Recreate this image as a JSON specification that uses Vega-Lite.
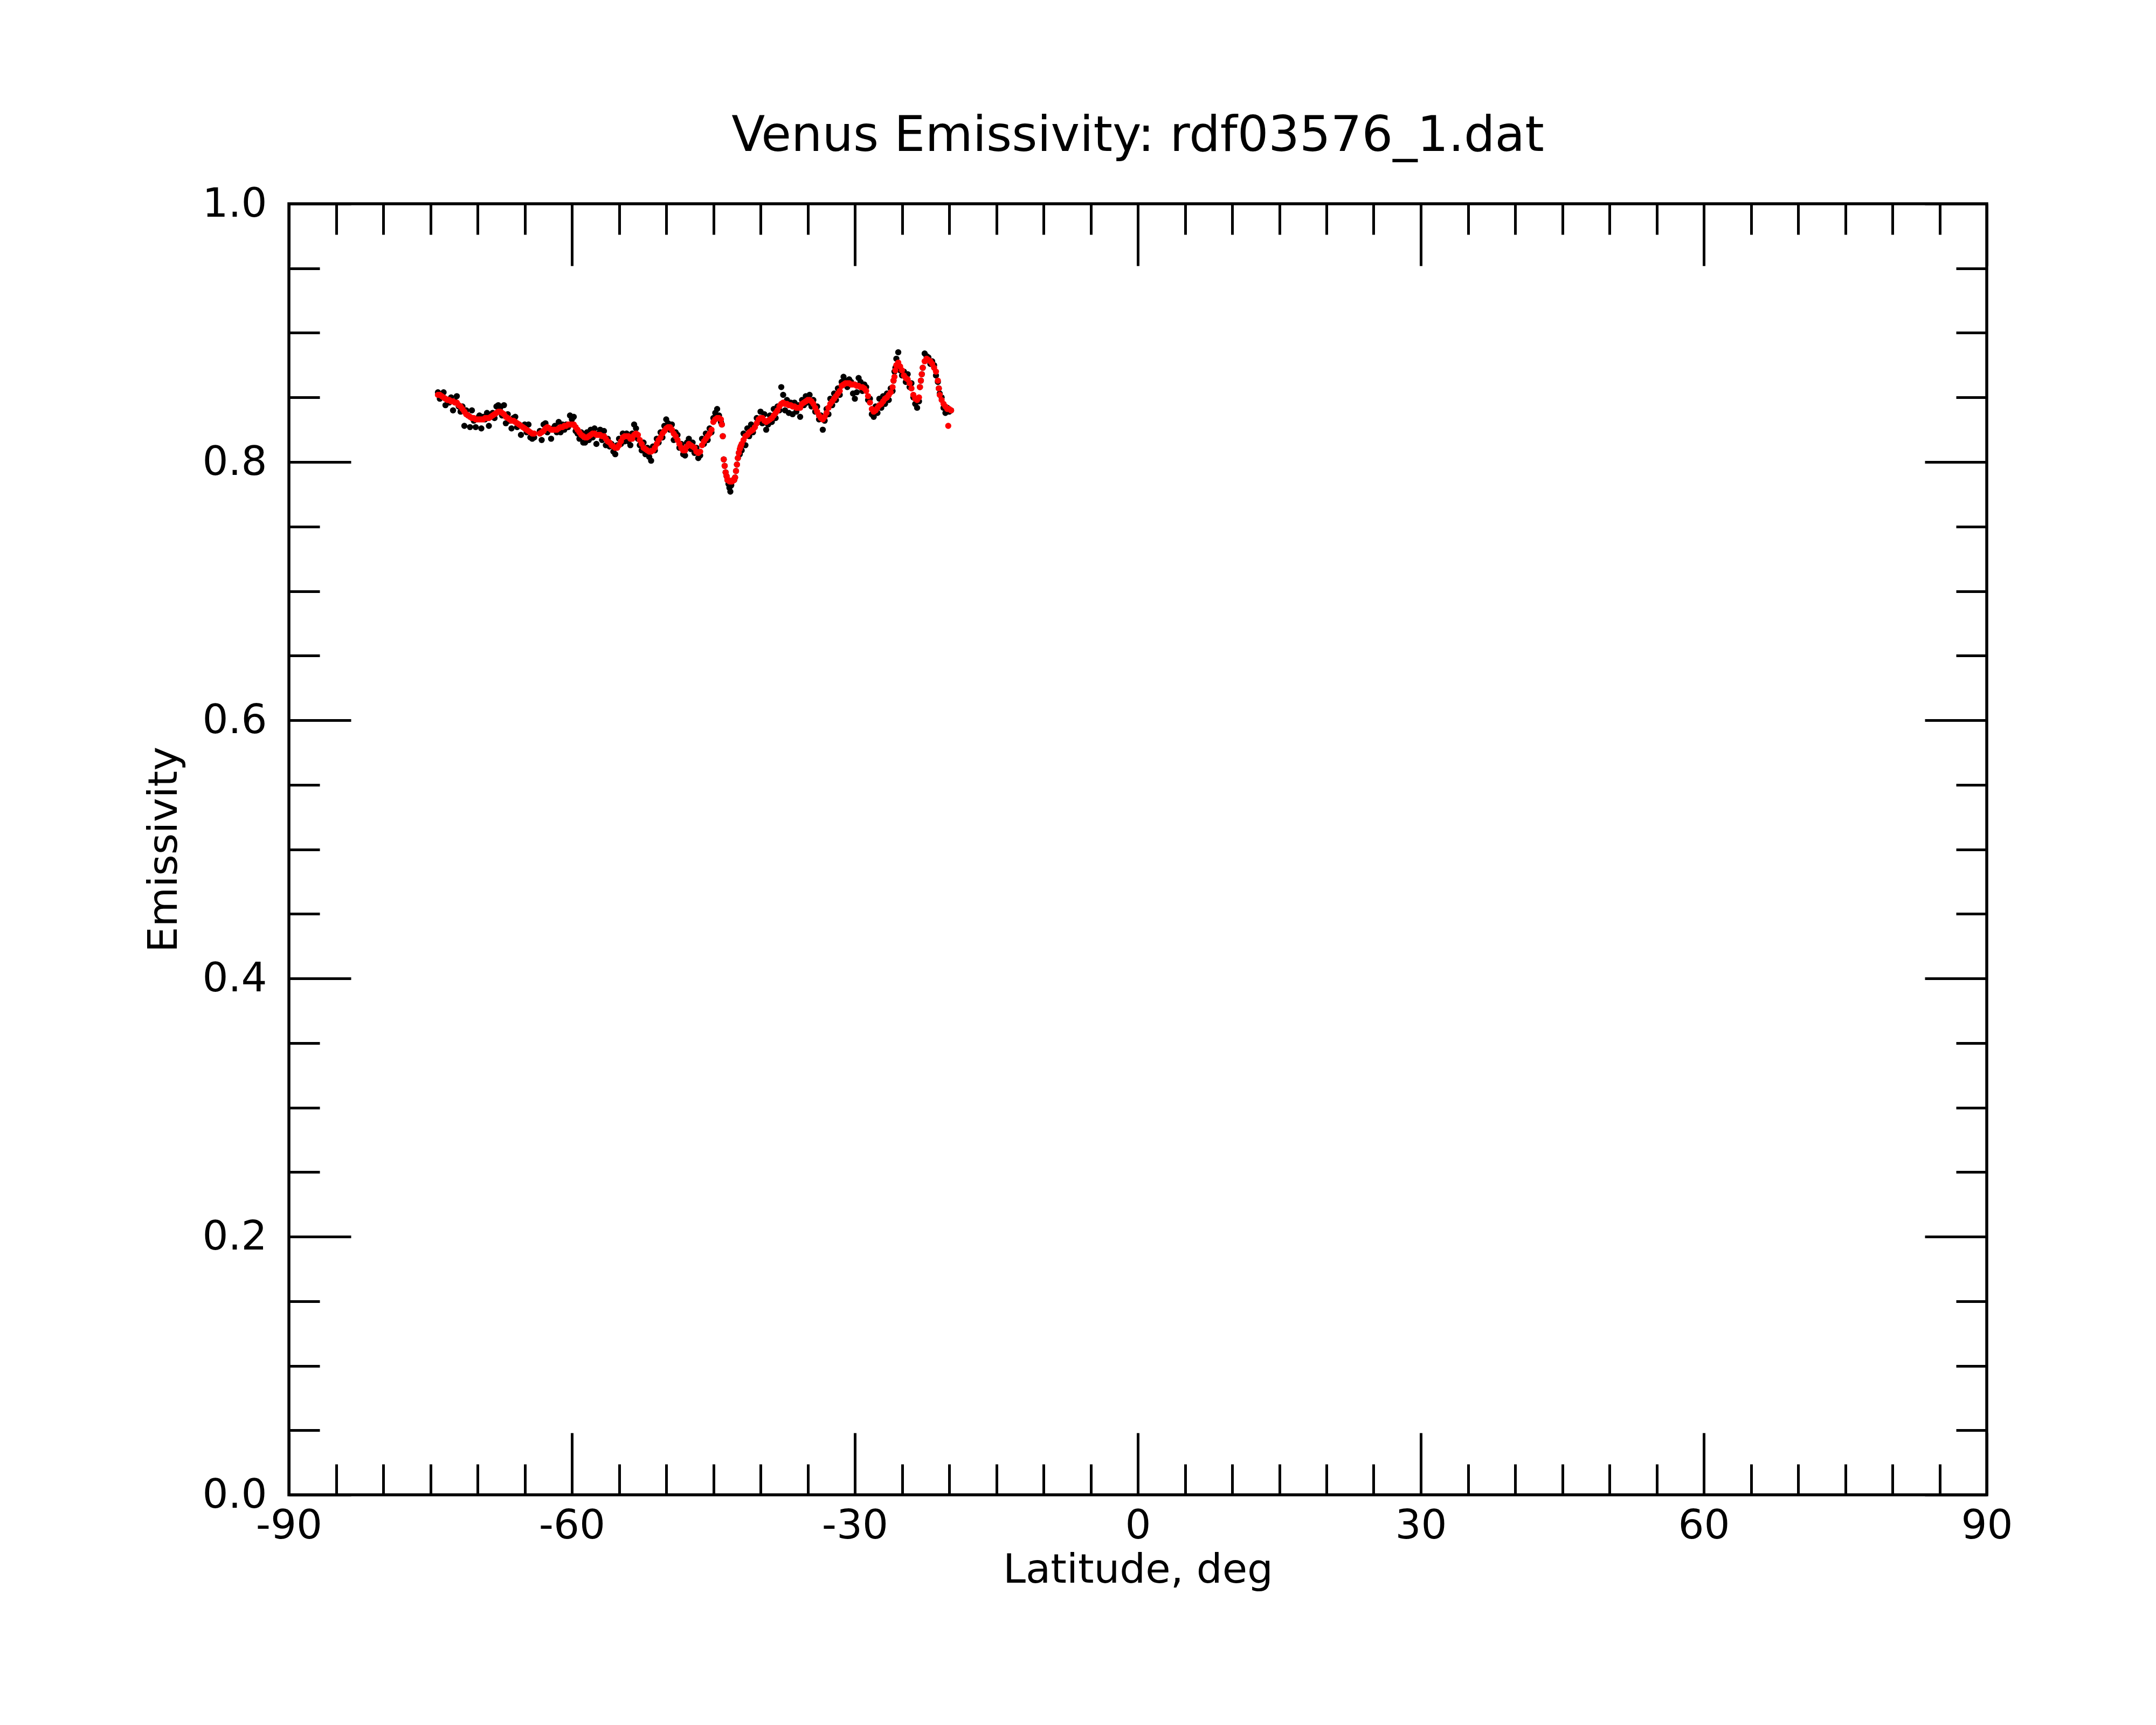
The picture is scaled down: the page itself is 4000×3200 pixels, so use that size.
{
  "$schema": "https://vega.github.io/schema/vega-lite/v6.json",
  "width": 3150,
  "height": 2395,
  "autosize": {"type": "none"},
  "padding": {"left": 536, "top": 378, "right": 314, "bottom": 427},
  "background": "white",
  "config": {
    "font": "DejaVu Sans",
    "view": {"stroke": "black", "strokeWidth": 5.5},
    "axis": {
      "domain": false,
      "grid": false,
      "tickColor": "black",
      "tickWidth": 5,
      "labelColor": "black",
      "labelFont": "DejaVu Sans",
      "labelFontSize": 75.5,
      "labelFlush": false,
      "labelOverlap": false,
      "titleFont": "DejaVu Sans",
      "titleFontSize": 75.5,
      "titleFontWeight": "normal",
      "titleColor": "black"
    }
  },
  "title": {
    "text": "Venus Emissivity: rdf03576_1.dat",
    "font": "DejaVu Sans",
    "fontSize": 90.7,
    "fontWeight": "normal",
    "color": "black",
    "anchor": "middle",
    "baseline": "alphabetic",
    "offset": -30
  },
  "data": {
    "values": [
      {"lat": -74.2, "raw": 0.854, "fit": 0.852},
      {"lat": -74.0, "raw": 0.849, "fit": 0.852},
      {"lat": -73.8, "raw": 0.852, "fit": 0.851},
      {"lat": -73.6, "raw": 0.854, "fit": 0.850},
      {"lat": -73.4, "raw": 0.844, "fit": 0.849},
      {"lat": -73.2, "raw": 0.848, "fit": 0.848},
      {"lat": -73.0, "raw": 0.846, "fit": 0.848},
      {"lat": -72.8, "raw": 0.850, "fit": 0.847},
      {"lat": -72.6, "raw": 0.840, "fit": 0.847},
      {"lat": -72.4, "raw": 0.847, "fit": 0.846},
      {"lat": -72.2, "raw": 0.851, "fit": 0.846},
      {"lat": -72.0, "raw": 0.843, "fit": 0.844},
      {"lat": -71.8, "raw": 0.839, "fit": 0.843},
      {"lat": -71.6, "raw": 0.843, "fit": 0.841},
      {"lat": -71.4, "raw": 0.828, "fit": 0.839},
      {"lat": -71.2, "raw": 0.840, "fit": 0.837},
      {"lat": -71.0, "raw": 0.836, "fit": 0.836},
      {"lat": -70.8, "raw": 0.827, "fit": 0.835},
      {"lat": -70.6, "raw": 0.840, "fit": 0.834},
      {"lat": -70.4, "raw": 0.832, "fit": 0.834},
      {"lat": -70.2, "raw": 0.827, "fit": 0.833},
      {"lat": -70.0, "raw": 0.834, "fit": 0.833},
      {"lat": -69.8, "raw": 0.836, "fit": 0.833},
      {"lat": -69.6, "raw": 0.826, "fit": 0.833},
      {"lat": -69.4, "raw": 0.835, "fit": 0.833},
      {"lat": -69.2, "raw": 0.833, "fit": 0.834},
      {"lat": -69.0, "raw": 0.838, "fit": 0.834},
      {"lat": -68.8, "raw": 0.828, "fit": 0.834},
      {"lat": -68.6, "raw": 0.835, "fit": 0.835},
      {"lat": -68.4, "raw": 0.838, "fit": 0.836},
      {"lat": -68.2, "raw": 0.834, "fit": 0.837},
      {"lat": -68.0, "raw": 0.843, "fit": 0.838},
      {"lat": -67.8, "raw": 0.844, "fit": 0.839},
      {"lat": -67.6, "raw": 0.842, "fit": 0.839},
      {"lat": -67.4, "raw": 0.836, "fit": 0.838},
      {"lat": -67.2, "raw": 0.844, "fit": 0.837},
      {"lat": -67.0, "raw": 0.830, "fit": 0.835},
      {"lat": -66.8, "raw": 0.837, "fit": 0.834},
      {"lat": -66.6, "raw": 0.832, "fit": 0.833},
      {"lat": -66.4, "raw": 0.826, "fit": 0.832},
      {"lat": -66.2, "raw": 0.834, "fit": 0.832},
      {"lat": -66.0, "raw": 0.835, "fit": 0.831},
      {"lat": -65.8, "raw": 0.827, "fit": 0.830},
      {"lat": -65.6, "raw": 0.829, "fit": 0.829},
      {"lat": -65.4, "raw": 0.821, "fit": 0.828},
      {"lat": -65.2, "raw": 0.828, "fit": 0.827},
      {"lat": -65.0, "raw": 0.829, "fit": 0.826},
      {"lat": -64.8, "raw": 0.823, "fit": 0.825},
      {"lat": -64.6, "raw": 0.829, "fit": 0.824},
      {"lat": -64.4, "raw": 0.819, "fit": 0.823},
      {"lat": -64.2, "raw": 0.818, "fit": 0.822},
      {"lat": -64.0, "raw": 0.819, "fit": 0.822},
      {"lat": -63.4, "raw": 0.824, "fit": 0.822},
      {"lat": -63.2, "raw": 0.817, "fit": 0.823},
      {"lat": -63.0, "raw": 0.829, "fit": 0.824},
      {"lat": -62.8, "raw": 0.830, "fit": 0.826},
      {"lat": -62.6, "raw": 0.823, "fit": 0.827},
      {"lat": -62.4, "raw": 0.826, "fit": 0.826},
      {"lat": -62.2, "raw": 0.818, "fit": 0.825},
      {"lat": -62.0, "raw": 0.826, "fit": 0.825},
      {"lat": -61.8, "raw": 0.828, "fit": 0.825},
      {"lat": -61.6, "raw": 0.823, "fit": 0.825},
      {"lat": -61.4, "raw": 0.831, "fit": 0.826},
      {"lat": -61.2, "raw": 0.823, "fit": 0.827},
      {"lat": -61.0, "raw": 0.829, "fit": 0.827},
      {"lat": -60.8, "raw": 0.825, "fit": 0.828},
      {"lat": -60.6, "raw": 0.829, "fit": 0.828},
      {"lat": -60.4, "raw": 0.827, "fit": 0.829},
      {"lat": -60.2, "raw": 0.836, "fit": 0.829},
      {"lat": -60.0, "raw": 0.833, "fit": 0.829},
      {"lat": -59.8, "raw": 0.835, "fit": 0.829},
      {"lat": -59.6, "raw": 0.824, "fit": 0.827},
      {"lat": -59.4, "raw": 0.822, "fit": 0.825},
      {"lat": -59.2, "raw": 0.818, "fit": 0.823},
      {"lat": -59.0, "raw": 0.823, "fit": 0.821},
      {"lat": -58.8, "raw": 0.815, "fit": 0.820},
      {"lat": -58.6, "raw": 0.815, "fit": 0.819},
      {"lat": -58.4, "raw": 0.823, "fit": 0.819},
      {"lat": -58.2, "raw": 0.817, "fit": 0.820},
      {"lat": -58.0, "raw": 0.825, "fit": 0.821},
      {"lat": -57.8, "raw": 0.819, "fit": 0.822},
      {"lat": -57.6, "raw": 0.826, "fit": 0.822},
      {"lat": -57.4, "raw": 0.814, "fit": 0.821},
      {"lat": -57.2, "raw": 0.822, "fit": 0.821},
      {"lat": -57.0, "raw": 0.825, "fit": 0.821},
      {"lat": -56.8, "raw": 0.817, "fit": 0.820},
      {"lat": -56.6, "raw": 0.824, "fit": 0.820},
      {"lat": -56.4, "raw": 0.813, "fit": 0.818},
      {"lat": -56.2, "raw": 0.818, "fit": 0.816},
      {"lat": -56.0, "raw": 0.812, "fit": 0.815},
      {"lat": -55.8, "raw": 0.814, "fit": 0.813},
      {"lat": -55.6, "raw": 0.808, "fit": 0.812},
      {"lat": -55.4, "raw": 0.806, "fit": 0.811},
      {"lat": -55.2, "raw": 0.813, "fit": 0.811},
      {"lat": -55.0, "raw": 0.818, "fit": 0.813},
      {"lat": -54.8, "raw": 0.814, "fit": 0.816},
      {"lat": -54.6, "raw": 0.822, "fit": 0.819},
      {"lat": -54.4, "raw": 0.816, "fit": 0.820},
      {"lat": -54.2, "raw": 0.822, "fit": 0.820},
      {"lat": -54.0, "raw": 0.816, "fit": 0.820},
      {"lat": -53.8, "raw": 0.813, "fit": 0.818},
      {"lat": -53.6, "raw": 0.822, "fit": 0.818},
      {"lat": -53.4, "raw": 0.829, "fit": 0.821},
      {"lat": -53.2, "raw": 0.826, "fit": 0.822},
      {"lat": -53.0, "raw": 0.818, "fit": 0.821},
      {"lat": -52.8, "raw": 0.813, "fit": 0.817},
      {"lat": -52.6, "raw": 0.809, "fit": 0.814},
      {"lat": -52.4, "raw": 0.815, "fit": 0.811},
      {"lat": -52.2, "raw": 0.806, "fit": 0.810},
      {"lat": -52.0, "raw": 0.811, "fit": 0.809},
      {"lat": -51.8, "raw": 0.804, "fit": 0.808},
      {"lat": -51.6, "raw": 0.801, "fit": 0.808},
      {"lat": -51.4, "raw": 0.812, "fit": 0.809},
      {"lat": -51.2, "raw": 0.809, "fit": 0.811},
      {"lat": -51.0, "raw": 0.818, "fit": 0.814},
      {"lat": -50.8, "raw": 0.815, "fit": 0.817},
      {"lat": -50.6, "raw": 0.823, "fit": 0.819},
      {"lat": -50.4, "raw": 0.819, "fit": 0.822},
      {"lat": -50.2, "raw": 0.828, "fit": 0.824},
      {"lat": -50.0, "raw": 0.833, "fit": 0.826},
      {"lat": -49.8, "raw": 0.830, "fit": 0.827},
      {"lat": -49.6, "raw": 0.825, "fit": 0.827},
      {"lat": -49.4, "raw": 0.829, "fit": 0.825},
      {"lat": -49.2, "raw": 0.817, "fit": 0.822},
      {"lat": -49.0, "raw": 0.823, "fit": 0.820},
      {"lat": -48.8, "raw": 0.821, "fit": 0.817},
      {"lat": -48.6, "raw": 0.811, "fit": 0.814},
      {"lat": -48.4, "raw": 0.814, "fit": 0.811},
      {"lat": -48.2, "raw": 0.806, "fit": 0.809},
      {"lat": -48.0, "raw": 0.805, "fit": 0.809},
      {"lat": -47.8, "raw": 0.815, "fit": 0.812},
      {"lat": -47.6, "raw": 0.818, "fit": 0.814},
      {"lat": -47.4, "raw": 0.810, "fit": 0.813},
      {"lat": -47.2, "raw": 0.815, "fit": 0.812},
      {"lat": -47.0, "raw": 0.807, "fit": 0.811},
      {"lat": -46.8, "raw": 0.811, "fit": 0.808},
      {"lat": -46.6, "raw": 0.803, "fit": 0.807},
      {"lat": -46.4, "raw": 0.805, "fit": 0.808},
      {"lat": -46.2, "raw": 0.818, "fit": 0.813},
      {"lat": -46.0, "raw": 0.814, "fit": 0.816},
      {"lat": -45.8, "raw": 0.822, "fit": 0.818},
      {"lat": -45.6, "raw": 0.817, "fit": 0.820},
      {"lat": -45.4, "raw": 0.826, "fit": 0.822},
      {"lat": -45.2, "raw": 0.823, "fit": 0.825},
      {"lat": -45.0, "raw": 0.834, "fit": 0.831},
      {"lat": -44.8, "raw": 0.838, "fit": 0.833},
      {"lat": -44.6, "raw": 0.841, "fit": 0.834},
      {"lat": -44.4, "raw": 0.836, "fit": 0.834},
      {"lat": -44.2, "raw": 0.831, "fit": 0.833},
      {"lat": -44.1, "raw": 0.829, "fit": 0.829},
      {"lat": -44.0, "raw": 0.820, "fit": 0.820},
      {"lat": -43.9, "raw": 0.802, "fit": 0.802},
      {"lat": -43.8, "raw": 0.797, "fit": 0.797},
      {"lat": -43.7, "raw": 0.792, "fit": 0.792},
      {"lat": -43.6, "raw": 0.789, "fit": 0.789},
      {"lat": -43.5, "raw": 0.786, "fit": 0.786},
      {"lat": -43.4, "raw": 0.783, "fit": 0.786},
      {"lat": -43.3, "raw": 0.780, "fit": 0.785},
      {"lat": -43.2, "raw": 0.777, "fit": 0.785},
      {"lat": -43.1, "raw": 0.782, "fit": 0.785},
      {"lat": -43.0, "raw": 0.785, "fit": 0.785},
      {"lat": -42.9, "raw": 0.786, "fit": 0.786},
      {"lat": -42.8, "raw": 0.786, "fit": 0.786},
      {"lat": -42.7, "raw": 0.788, "fit": 0.788},
      {"lat": -42.6, "raw": 0.793, "fit": 0.793},
      {"lat": -42.5, "raw": 0.798, "fit": 0.798},
      {"lat": -42.4, "raw": 0.803, "fit": 0.803},
      {"lat": -42.3, "raw": 0.807, "fit": 0.807},
      {"lat": -42.2, "raw": 0.806, "fit": 0.810},
      {"lat": -42.1, "raw": 0.812, "fit": 0.812},
      {"lat": -42.0, "raw": 0.809, "fit": 0.814},
      {"lat": -41.8, "raw": 0.822, "fit": 0.817},
      {"lat": -41.6, "raw": 0.813, "fit": 0.820},
      {"lat": -41.4, "raw": 0.826, "fit": 0.821},
      {"lat": -41.2, "raw": 0.820, "fit": 0.823},
      {"lat": -41.0, "raw": 0.829, "fit": 0.824},
      {"lat": -40.8, "raw": 0.823, "fit": 0.825},
      {"lat": -40.6, "raw": 0.827, "fit": 0.827},
      {"lat": -40.4, "raw": 0.834, "fit": 0.830},
      {"lat": -40.2, "raw": 0.831, "fit": 0.833},
      {"lat": -40.0, "raw": 0.839, "fit": 0.834},
      {"lat": -39.8, "raw": 0.830, "fit": 0.834},
      {"lat": -39.6, "raw": 0.837, "fit": 0.832},
      {"lat": -39.4, "raw": 0.825, "fit": 0.831},
      {"lat": -39.2, "raw": 0.829, "fit": 0.832},
      {"lat": -39.0, "raw": 0.836, "fit": 0.833},
      {"lat": -38.8, "raw": 0.831, "fit": 0.834},
      {"lat": -38.6, "raw": 0.841, "fit": 0.836},
      {"lat": -38.4, "raw": 0.834, "fit": 0.838},
      {"lat": -38.2, "raw": 0.843, "fit": 0.840},
      {"lat": -38.0, "raw": 0.840, "fit": 0.843},
      {"lat": -37.8, "raw": 0.858, "fit": 0.845},
      {"lat": -37.6, "raw": 0.852, "fit": 0.846},
      {"lat": -37.4, "raw": 0.840, "fit": 0.845},
      {"lat": -37.2, "raw": 0.848, "fit": 0.845},
      {"lat": -37.0, "raw": 0.838, "fit": 0.844},
      {"lat": -36.8, "raw": 0.846, "fit": 0.844},
      {"lat": -36.6, "raw": 0.837, "fit": 0.843},
      {"lat": -36.4, "raw": 0.846, "fit": 0.843},
      {"lat": -36.2, "raw": 0.839, "fit": 0.842},
      {"lat": -36.0, "raw": 0.844, "fit": 0.842},
      {"lat": -35.8, "raw": 0.835, "fit": 0.842},
      {"lat": -35.6, "raw": 0.848, "fit": 0.845},
      {"lat": -35.4, "raw": 0.844, "fit": 0.846},
      {"lat": -35.2, "raw": 0.851, "fit": 0.847},
      {"lat": -35.0, "raw": 0.846, "fit": 0.848},
      {"lat": -34.8, "raw": 0.852, "fit": 0.848},
      {"lat": -34.6, "raw": 0.843, "fit": 0.847},
      {"lat": -34.4, "raw": 0.848, "fit": 0.845},
      {"lat": -34.2, "raw": 0.839, "fit": 0.842},
      {"lat": -34.0, "raw": 0.843, "fit": 0.839},
      {"lat": -33.8, "raw": 0.833, "fit": 0.836},
      {"lat": -33.6, "raw": 0.836, "fit": 0.834},
      {"lat": -33.4, "raw": 0.825, "fit": 0.833},
      {"lat": -33.2, "raw": 0.832, "fit": 0.835},
      {"lat": -33.0, "raw": 0.841, "fit": 0.838},
      {"lat": -32.8, "raw": 0.837, "fit": 0.842},
      {"lat": -32.6, "raw": 0.849, "fit": 0.845},
      {"lat": -32.4, "raw": 0.844, "fit": 0.847},
      {"lat": -32.2, "raw": 0.853, "fit": 0.849},
      {"lat": -32.0, "raw": 0.848, "fit": 0.851},
      {"lat": -31.8, "raw": 0.857, "fit": 0.853},
      {"lat": -31.6, "raw": 0.852, "fit": 0.855},
      {"lat": -31.4, "raw": 0.862, "fit": 0.859},
      {"lat": -31.2, "raw": 0.866, "fit": 0.860},
      {"lat": -31.0, "raw": 0.863, "fit": 0.861},
      {"lat": -30.8, "raw": 0.858, "fit": 0.861},
      {"lat": -30.6, "raw": 0.864, "fit": 0.861},
      {"lat": -30.4, "raw": 0.862, "fit": 0.860},
      {"lat": -30.2, "raw": 0.853, "fit": 0.860},
      {"lat": -30.0, "raw": 0.849, "fit": 0.860},
      {"lat": -29.8, "raw": 0.854, "fit": 0.859},
      {"lat": -29.6, "raw": 0.865, "fit": 0.859},
      {"lat": -29.4, "raw": 0.862, "fit": 0.858},
      {"lat": -29.2, "raw": 0.855, "fit": 0.858},
      {"lat": -29.0, "raw": 0.860, "fit": 0.857},
      {"lat": -28.8, "raw": 0.858, "fit": 0.855},
      {"lat": -28.6, "raw": 0.848, "fit": 0.851},
      {"lat": -28.4, "raw": 0.849, "fit": 0.846},
      {"lat": -28.2, "raw": 0.837, "fit": 0.841},
      {"lat": -28.0, "raw": 0.835, "fit": 0.839},
      {"lat": -27.8, "raw": 0.843, "fit": 0.840},
      {"lat": -27.6, "raw": 0.838, "fit": 0.842},
      {"lat": -27.4, "raw": 0.849, "fit": 0.844},
      {"lat": -27.2, "raw": 0.842, "fit": 0.845},
      {"lat": -27.0, "raw": 0.851, "fit": 0.847},
      {"lat": -26.8, "raw": 0.845, "fit": 0.849},
      {"lat": -26.6, "raw": 0.853, "fit": 0.850},
      {"lat": -26.4, "raw": 0.848, "fit": 0.852},
      {"lat": -26.2, "raw": 0.857, "fit": 0.854},
      {"lat": -26.0, "raw": 0.855, "fit": 0.858},
      {"lat": -25.9, "raw": 0.863, "fit": 0.863},
      {"lat": -25.8, "raw": 0.870, "fit": 0.866},
      {"lat": -25.7, "raw": 0.873, "fit": 0.871},
      {"lat": -25.6, "raw": 0.880, "fit": 0.875},
      {"lat": -25.4, "raw": 0.885, "fit": 0.877},
      {"lat": -25.2, "raw": 0.871, "fit": 0.874},
      {"lat": -25.0, "raw": 0.867, "fit": 0.871},
      {"lat": -24.8, "raw": 0.870, "fit": 0.867},
      {"lat": -24.6, "raw": 0.862, "fit": 0.865},
      {"lat": -24.4, "raw": 0.868, "fit": 0.864},
      {"lat": -24.2, "raw": 0.858, "fit": 0.861},
      {"lat": -24.0, "raw": 0.861, "fit": 0.857},
      {"lat": -23.8, "raw": 0.850, "fit": 0.852},
      {"lat": -23.6, "raw": 0.845, "fit": 0.849},
      {"lat": -23.4, "raw": 0.842, "fit": 0.848},
      {"lat": -23.2, "raw": 0.847, "fit": 0.850},
      {"lat": -23.1, "raw": 0.858, "fit": 0.858},
      {"lat": -23.0, "raw": 0.863, "fit": 0.863},
      {"lat": -22.9, "raw": 0.868, "fit": 0.868},
      {"lat": -22.8, "raw": 0.873, "fit": 0.873},
      {"lat": -22.6, "raw": 0.884, "fit": 0.878},
      {"lat": -22.4, "raw": 0.882, "fit": 0.880},
      {"lat": -22.2, "raw": 0.881, "fit": 0.879},
      {"lat": -22.0, "raw": 0.876, "fit": 0.878},
      {"lat": -21.8, "raw": 0.878, "fit": 0.876},
      {"lat": -21.6, "raw": 0.875, "fit": 0.873},
      {"lat": -21.4, "raw": 0.867, "fit": 0.870},
      {"lat": -21.2, "raw": 0.862, "fit": 0.863},
      {"lat": -21.1, "raw": 0.857, "fit": 0.857},
      {"lat": -21.0, "raw": 0.853, "fit": 0.852},
      {"lat": -20.8, "raw": 0.850, "fit": 0.848},
      {"lat": -20.6, "raw": 0.842, "fit": 0.845},
      {"lat": -20.4, "raw": 0.838, "fit": 0.843},
      {"lat": -20.2, "raw": 0.842, "fit": 0.841},
      {"lat": -20.1, "raw": null, "fit": 0.828},
      {"lat": -20.0, "raw": 0.839, "fit": 0.841},
      {"lat": -19.8, "raw": 0.840, "fit": 0.840}
    ]
  },
  "layer": [
    {
      "mark": {"type": "circle", "size": 130, "color": "black", "opacity": 1},
      "encoding": {
        "x": {
          "field": "lat",
          "type": "quantitative",
          "scale": {"domain": [-90, 90], "nice": false, "zero": false},
          "axis": {
            "orient": "bottom",
            "values": [-90, -85, -80, -75, -70, -65, -60, -55, -50, -45, -40, -35, -30, -25, -20, -15, -10, -5, 0, 5, 10, 15, 20, 25, 30, 35, 40, 45, 50, 55, 60, 65, 70, 75, 80, 85, 90],
            "labelExpr": "datum.value % 30 === 0 ? '' + datum.value : ''",
            "tickSize": {"condition": {"test": "datum.value % 30 === 0", "value": -115}, "value": -57},
            "labelPadding": 135,
            "title": "Latitude, deg",
            "titleY": 162,
            "titleBaseline": "alphabetic"
          }
        },
        "y": {
          "field": "raw",
          "type": "quantitative",
          "scale": {"domain": [0, 1], "nice": false, "zero": false},
          "axis": {
            "orient": "left",
            "values": [0, 0.05, 0.1, 0.15, 0.2, 0.25, 0.3, 0.35, 0.4, 0.45, 0.5, 0.55, 0.6, 0.65, 0.7, 0.75, 0.8, 0.85, 0.9, 0.95, 1.0],
            "labelExpr": "round(datum.value * 100) % 20 === 0 ? format(datum.value, '.1f') : ''",
            "tickSize": {"condition": {"test": "round(datum.value * 100) % 20 === 0", "value": -115}, "value": -57},
            "labelPadding": 156,
            "labelBaseline": "middle",
            "title": "Emissivity",
            "titleX": -209,
            "titleY": 1197.5,
            "titleAngle": -90,
            "titleBaseline": "alphabetic",
            "titleAlign": "center"
          }
        }
      }
    },
    {
      "mark": {"type": "circle", "size": 130, "color": "red", "opacity": 1},
      "encoding": {
        "x": {
          "field": "lat",
          "type": "quantitative",
          "scale": {"domain": [-90, 90], "nice": false, "zero": false},
          "axis": {
            "orient": "top",
            "values": [-90, -85, -80, -75, -70, -65, -60, -55, -50, -45, -40, -35, -30, -25, -20, -15, -10, -5, 0, 5, 10, 15, 20, 25, 30, 35, 40, 45, 50, 55, 60, 65, 70, 75, 80, 85, 90],
            "labels": false,
            "tickSize": {"condition": {"test": "datum.value % 30 === 0", "value": -115}, "value": -57},
            "title": null
          }
        },
        "y": {
          "field": "fit",
          "type": "quantitative",
          "scale": {"domain": [0, 1], "nice": false, "zero": false},
          "axis": {
            "orient": "right",
            "values": [0, 0.05, 0.1, 0.15, 0.2, 0.25, 0.3, 0.35, 0.4, 0.45, 0.5, 0.55, 0.6, 0.65, 0.7, 0.75, 0.8, 0.85, 0.9, 0.95, 1.0],
            "labels": false,
            "tickSize": {"condition": {"test": "round(datum.value * 100) % 20 === 0", "value": -115}, "value": -57},
            "title": null
          }
        }
      }
    }
  ],
  "resolve": {"axis": {"x": "independent", "y": "independent"}}
}
